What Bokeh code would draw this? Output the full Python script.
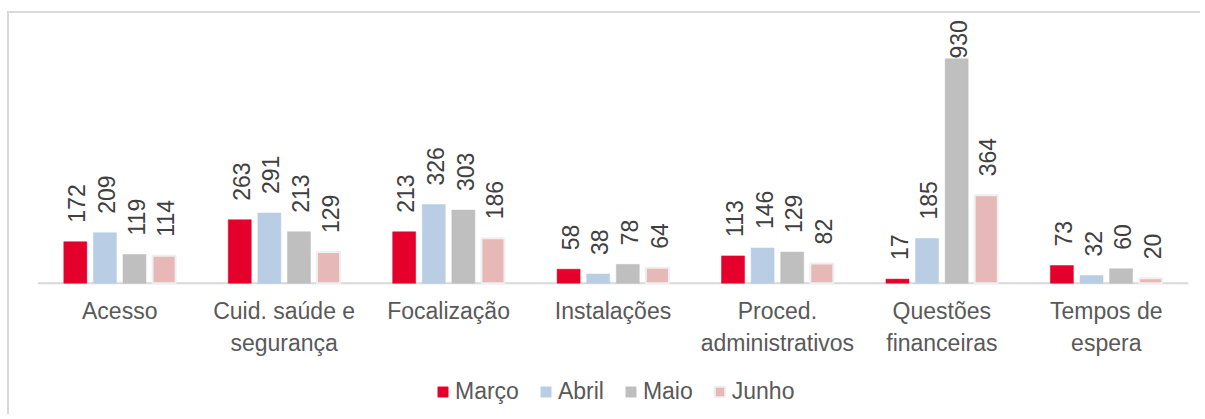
from bokeh.plotting import figure
from bokeh.models import FactorRange, Range1d, ColumnDataSource, Legend, LegendItem
from bokeh.transform import dodge
from bokeh.embed import file_html
from bokeh.resources import INLINE
from bokeh.core.properties import value
import math

categories = ["Acesso", "Cuid. saúde e\nsegurança", "Focalização", "Instalações",
              "Proced.\nadministrativos", "Questões\nfinanceiras", "Tempos de\nespera"]
series_names = ["Março", "Abril", "Maio", "Junho"]
marco = [172, 263, 213, 58, 113, 17, 73]
abril = [209, 291, 326, 38, 146, 185, 32]
maio = [119, 213, 303, 78, 129, 930, 60]
junho = [114, 129, 186, 64, 82, 364, 20]
series_values = [marco, abril, maio, junho]

colors = ["#E4002B", "#B9CDE5", "#BFBFBF", "#E6B9B8"]
outlines = [None, None, None, "#EFEFEF"]
offsets = [-0.27, -0.09, 0.09, 0.27]
BAR_W = 0.14

W, H = 1193, 403
BASE_PX = 269.7            # baseline, px from top of canvas
PX_PER_UNIT = 0.2413
Y_END = BASE_PX / PX_PER_UNIT
Y_START = -(H - BASE_PX) / PX_PER_UNIT
GAP_UNITS = 19 / PX_PER_UNIT
LABEL_CAP = Y_END - 45 / PX_PER_UNIT
CAT_LABEL_Y = -14.5 / PX_PER_UNIT
FONT = "Liberation Sans"

p = figure(x_range=FactorRange(*categories, range_padding=0),
           y_range=Range1d(Y_START, Y_END),
           width=W, height=H, output_backend="svg", toolbar_location=None,
           min_border_left=28, min_border_right=14, min_border_top=0, min_border_bottom=0)
p.styles = {"border-top": "2px solid #d9d9d9", "border-left": "2px solid #d9d9d9",
            "margin-top": "11px", "margin-left": "7px"}

data = {"cat": categories}
for name, vals in zip(series_names, series_values):
    data[name] = vals
    data[name + "_ly"] = [min(v + GAP_UNITS, LABEL_CAP) for v in vals]
    data[name + "_lt"] = [str(v) for v in vals]
src = ColumnDataSource(data)

# baseline (category axis line)
ends = ColumnDataSource({"c0": [categories[0]], "c1": [categories[-1]], "y": [0]})
p.segment(x0=dodge("c0", -0.5, range=p.x_range), x1=dodge("c1", 0.5, range=p.x_range),
          y0="y", y1="y", source=ends, line_color="#D9D9D9", line_width=2)

items = []
for name, col, oc, off in zip(series_names, colors, outlines, offsets):
    r = p.vbar(x=dodge("cat", off, range=p.x_range), top=name, width=BAR_W, source=src,
               fill_color=col, line_color=oc if oc else col, line_width=2 if oc else 0.5)
    items.append(LegendItem(label=name, renderers=[r]))
    p.text(x=dodge("cat", off + 0.01, range=p.x_range), y=name + "_ly", text=name + "_lt",
           source=src, angle=math.pi / 2, text_align="left", text_baseline="middle",
           text_font=value(FONT), text_font_size="23px", text_color="#404040")

# category labels
cat_src = ColumnDataSource({"cat": categories, "y": [CAT_LABEL_Y] * len(categories)})
p.text(x="cat", y="y", text="cat", source=cat_src, text_align="center",
       text_baseline="top", text_line_height=1.26,
       text_font=value(FONT), text_font_size="23px", text_color="#595959")

p.xaxis.visible = False
p.yaxis.visible = False
p.xgrid.visible = False
p.ygrid.visible = False
p.outline_line_color = None

legend = Legend(items=items, orientation="horizontal", location=(399, 11),
                glyph_width=13, glyph_height=13, label_standoff=6, spacing=20,
                label_text_font=FONT, label_text_font_size="23px",
                label_text_color="#595959", border_line_color=None,
                background_fill_alpha=0, padding=0, margin=0)
p.add_layout(legend, "center")

open("out.html", "w").write(file_html(p, INLINE))
